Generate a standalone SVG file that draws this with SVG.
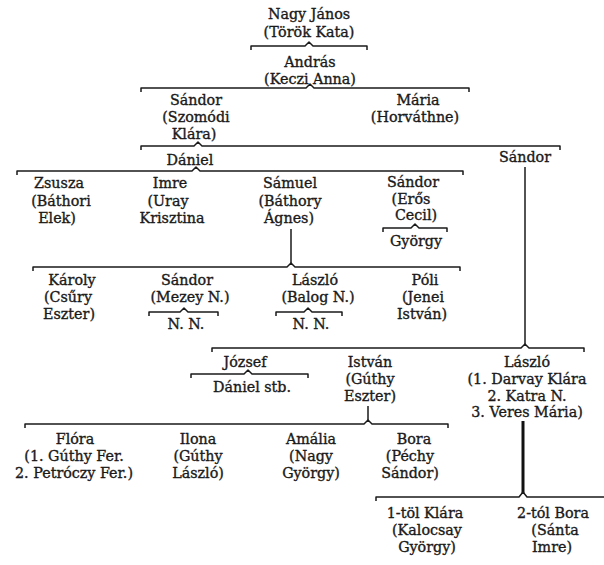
<svg xmlns="http://www.w3.org/2000/svg" width="604" height="565" viewBox="0 0 604 565">
<style>
text{font-family:"DejaVu Serif","Liberation Serif",serif;font-size:14.3px;fill:#1a1a1a;stroke:#1a1a1a;stroke-width:0.35;text-anchor:middle}
.b{fill:none;stroke:#1a1a1a;stroke-width:1.5;stroke-linejoin:round}
.v{fill:none;stroke:#1a1a1a;stroke-width:1.5}
.t{fill:none;stroke:#111;stroke-width:3}
</style>
<rect width="604" height="565" fill="#fff"/>
<g id="connectors">
<path class="b" d="M251 50V46H305L309 42L313 46H367V50"/>
<path class="b" d="M141 92V88H306L310 84L314 88H469V92"/>
<path class="b" d="M141 150V146H194L198 142L202 146H560V150"/>
<path class="b" d="M17 175V171H192L196 167L200 171H463V175"/>
<path class="b" d="M383 232V228H411L415 224L419 228H447V232"/>
<line class="v" x1="291" y1="229" x2="291" y2="263"/>
<path class="b" d="M33 271V267H287L291 263L295 267H460V271"/>
<path class="b" d="M149 316V312H180L184 308L188 312H218V316"/>
<path class="b" d="M276 316V312H304L308 308L312 312H342V316"/>
<line class="v" x1="525" y1="167" x2="525" y2="344"/>
<path class="b" d="M212 352V348H521L525 344L529 348H584V352"/>
<path class="b" d="M191 378V374H244L248 370L252 374H308V378"/>
<line class="v" x1="368" y1="406" x2="368" y2="420"/>
<path class="b" d="M25 428V424H364L368 420L372 424H448V428"/>
<line class="t" x1="523" y1="421" x2="523" y2="493"/>
<path class="b" d="M376 501V497H519L523 492L527 497H604"/>
</g>
<g id="nagy-janos"><text x="309" y="19">Nagy János</text><text x="309" y="37">(Török Kata)</text></g>
<g id="andras"><text x="310" y="67">András</text><text x="310" y="84">(Keczi Anna)</text></g>
<g id="sandor-1"><text x="196" y="105">Sándor</text><text x="196" y="122">(Szomódi</text><text x="194" y="139">Klára)</text></g>
<g id="maria"><text x="418" y="105">Mária</text><text x="415" y="122">(Horváthne)</text></g>
<g id="daniel"><text x="190" y="165">Dániel</text></g>
<g id="sandor-2"><text x="525" y="162">Sándor</text></g>
<g id="zsusza"><text x="59" y="188">Zsusza</text><text x="61" y="206">(Báthori</text><text x="57" y="223">Elek)</text></g>
<g id="imre"><text x="170" y="188">Imre</text><text x="168" y="206">(Uray</text><text x="172" y="223">Krisztina</text></g>
<g id="samuel"><text x="290" y="188">Sámuel</text><text x="290" y="206">(Báthory</text><text x="289" y="223">Ágnes)</text></g>
<g id="sandor-3"><text x="413" y="187">Sándor</text><text x="411" y="204">(Erős</text><text x="416" y="220">Cecil)</text></g>
<g id="gyorgy"><text x="416" y="246">György</text></g>
<g id="karoly"><text x="72" y="285">Károly</text><text x="68" y="302">(Csűry</text><text x="69" y="319">Eszter)</text></g>
<g id="sandor-4"><text x="187" y="285">Sándor</text><text x="190" y="302">(Mezey N.)</text></g>
<g id="nn-1"><text x="186" y="329">N. N.</text></g>
<g id="laszlo-1"><text x="315" y="285">László</text><text x="318" y="302">(Balog N.)</text></g>
<g id="nn-2"><text x="311" y="329">N. N.</text></g>
<g id="poli"><text x="425" y="285">Póli</text><text x="423" y="302">(Jenei</text><text x="422" y="319">István)</text></g>
<g id="jozsef"><text x="245" y="367">József</text></g>
<g id="daniel-stb"><text x="252" y="392">Dániel stb.</text></g>
<g id="istvan"><text x="370" y="367">István</text><text x="370" y="384">(Gúthy</text><text x="370" y="401">Eszter)</text></g>
<g id="laszlo-2"><text x="527" y="367">László</text><text x="527" y="384">(1. Darvay Klára</text><text x="527" y="401">2. Katra N.</text><text x="527" y="417">3. Veres Mária)</text></g>
<g id="flora"><text x="75" y="444">Flóra</text><text x="74" y="461">(1. Gúthy Fer.</text><text x="74" y="478">2. Petróczy Fer.)</text></g>
<g id="ilona"><text x="198" y="444">Ilona</text><text x="198" y="461">(Gúthy</text><text x="198" y="478">László)</text></g>
<g id="amalia"><text x="311" y="444">Amália</text><text x="311" y="461">(Nagy</text><text x="311" y="478">György)</text></g>
<g id="bora-1"><text x="414" y="444">Bora</text><text x="410" y="461">(Péchy</text><text x="410" y="478">Sándor)</text></g>
<g id="klara"><text x="425" y="518">1-töl Klára</text><text x="427" y="535">(Kalocsay</text><text x="427" y="552">György)</text></g>
<g id="bora-2"><text x="553" y="518">2-tól Bora</text><text x="555" y="535">(Sánta</text><text x="552" y="552">Imre)</text></g>
</svg>
